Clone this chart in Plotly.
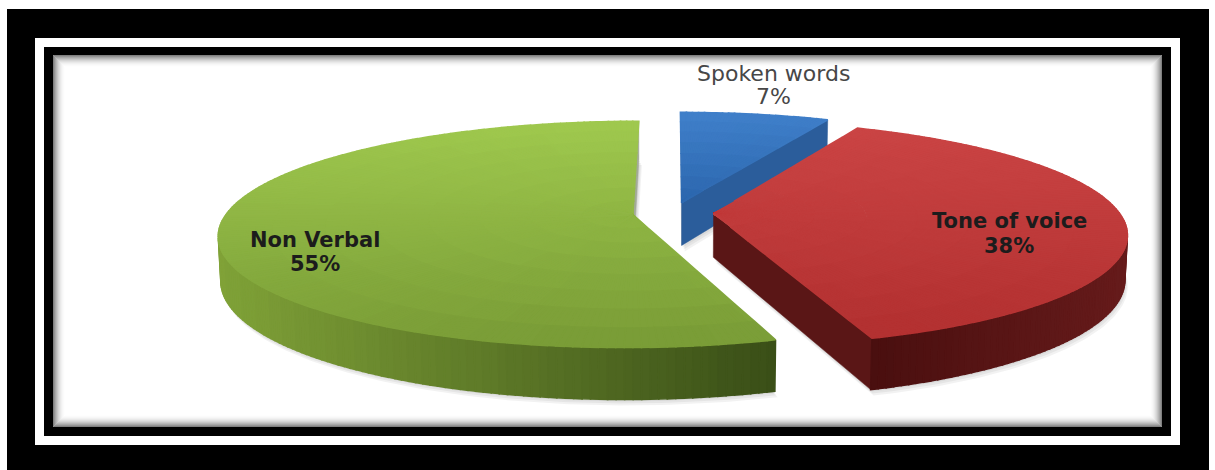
import numpy as np
import plotly.graph_objects as go

# ---- data -------------------------------------------------------------
categories = ["Spoken words", "Tone of voice", "Non Verbal"]
percent = [7, 38, 55]

# ---- colours (per slice, same order as categories) --------------------
top_light = ["#3f7fc9", "#ca4444", "#9fc84e"]
top_dark = ["#2e69b0", "#b33131", "#7a9d37"]
side_left = ["#2a5a96", "#4a0f0f", "#80a238"]
side_right = ["#2a5a96", "#661b1b", "#3a4f17"]
face_start = ["#9aa3ad", "#5a1616", "#4f6d21"]
face_end = ["#2b5d9b", "#5a1616", "#a3aa98"]
label_colors = ["#474747", "#1c1c1c", "#1c1c1c"]

# ---- canvas and 3-D view ------------------------------------------------
W, H = 1215, 470
CX, CY = 673.0, 213.0
FOCAL = 2252.0
DIST = 5.55
TILT = np.radians(15.6)
THICK = 0.112
EXPLODE = 0.10

cos_t, sin_t = np.cos(TILT), np.sin(TILT)
CAM = np.array([0.0, -DIST * cos_t, DIST * sin_t])


def project(X, Y, Z):
    X, Y, Z = np.asarray(X, float), np.asarray(Y, float), np.asarray(Z, float)
    depth = DIST + Y * cos_t - Z * sin_t
    yc = Y * sin_t + Z * cos_t
    return CX + FOCAL * X / depth, CY - FOCAL * yc / depth


def hex_rgb(h):
    h = h.lstrip("#")
    return np.array([int(h[i:i + 2], 16) for i in (0, 2, 4)], float)


def mix(c1, c2, t):
    c = hex_rgb(c1) * (1 - t) + hex_rgb(c2) * t
    return "rgb(%d,%d,%d)" % tuple(np.round(c).astype(int))


def add_polys(fig, polys, color, lw=1.0):
    xs, ys = [], []
    for px, py in polys:
        xs += list(px) + [px[0], None]
        ys += list(py) + [py[0], None]
    fig.add_trace(go.Scatter(
        x=xs, y=ys, mode="lines", fill="toself", fillcolor=color,
        line=dict(color=color, width=lw), hoverinfo="skip", showlegend=False))


def visible(normal, point):
    return float(np.dot(normal, CAM - point)) > 0


fig = go.Figure()

# slice angles, clockwise from 12 o'clock
shares = np.array(percent, float) / sum(percent)
ends = np.cumsum(shares) * 2 * np.pi
starts = ends - shares * 2 * np.pi
mids = (starts + ends) / 2
offsets = [EXPLODE * np.array([np.sin(m), np.cos(m)]) for m in mids]

order = sorted(range(len(percent)), key=lambda i: -(DIST + offsets[i][1] * cos_t))
LEVELS = 40

for i in order:
    a0, a1 = starts[i], ends[i]
    ox, oy = offsets[i]
    n_ang = max(4, int(np.degrees(a1 - a0)))
    angs = np.linspace(a0, a1, n_ang + 1)

    # soft drop shadow under the slice
    bx = ox + np.sin(angs)
    by = oy + np.cos(angs)
    sx, sy = project(np.r_[ox, bx], np.r_[oy, by], np.full(n_ang + 2, -THICK))
    for k, a in enumerate((0.05, 0.05, 0.05)):
        fig.add_trace(go.Scatter(
            x=list(sx + 1 + k) + [sx[0] + 1 + k], y=list(sy + 2 + 2 * k) + [sy[0] + 2 + 2 * k],
            mode="lines", fill="toself", fillcolor="rgba(0,0,0,%.2f)" % a,
            line=dict(color="rgba(0,0,0,0)", width=0), hoverinfo="skip", showlegend=False))

    # radial cut faces
    for ang, sign, col in ((a0, -1, face_start[i]), (a1, 1, face_end[i])):
        normal = sign * np.array([np.cos(ang), -np.sin(ang), 0.0])
        rim = np.array([ox + np.sin(ang), oy + np.cos(ang)])
        mid_pt = np.array([(ox + rim[0]) / 2, (oy + rim[1]) / 2, -THICK / 2])
        if visible(normal, mid_pt):
            X = [ox, rim[0], rim[0], ox]
            Y = [oy, rim[1], rim[1], oy]
            Z = [0, 0, -THICK, -THICK]
            add_polys(fig, [project(X, Y, Z)], col, lw=0.5)

    # outer curved wall
    strips = []
    for k in range(n_ang):
        t0, t1 = angs[k], angs[k + 1]
        tm = (t0 + t1) / 2
        normal = np.array([np.sin(tm), np.cos(tm), 0.0])
        p = np.array([ox + np.sin(tm), oy + np.cos(tm), -THICK / 2])
        if visible(normal, p):
            X = [ox + np.sin(t0), ox + np.sin(t1), ox + np.sin(t1), ox + np.sin(t0)]
            Y = [oy + np.cos(t0), oy + np.cos(t1), oy + np.cos(t1), oy + np.cos(t0)]
            Z = [0, 0, -THICK, -THICK]
            px, py = project(X, Y, Z)
            strips.append((px, py, float(np.mean(px))))
    if strips:
        xmin = min(s[2] for s in strips)
        xmax = max(s[2] for s in strips)
        groups = {}
        for px, py, xm in strips:
            t = 0.0 if xmax == xmin else (xm - xmin) / (xmax - xmin)
            lvl = int(round(t * (LEVELS - 1)))
            groups.setdefault(lvl, []).append((px, py))
        for lvl in sorted(groups):
            add_polys(fig, groups[lvl], mix(side_left[i], side_right[i], lvl / (LEVELS - 1)), lw=1.6)

    # top surface, split into small cells for a vertical colour gradient
    radii = np.linspace(0, 1, 9)
    cells = []
    for k in range(n_ang):
        t0, t1 = angs[k], angs[k + 1]
        for r0, r1 in zip(radii[:-1], radii[1:]):
            X = [ox + r0 * np.sin(t0), ox + r1 * np.sin(t0), ox + r1 * np.sin(t1), ox + r0 * np.sin(t1)]
            Y = [oy + r0 * np.cos(t0), oy + r1 * np.cos(t0), oy + r1 * np.cos(t1), oy + r0 * np.cos(t1)]
            px, py = project(X, Y, [0, 0, 0, 0])
            cells.append((px, py, float(np.mean(py))))
    ymin = min(c[2] for c in cells)
    ymax = max(c[2] for c in cells)
    groups = {}
    for px, py, ym in cells:
        t = (ym - ymin) / (ymax - ymin)
        lvl = int(round(t * (LEVELS - 1)))
        groups.setdefault(lvl, []).append((px, py))
    for lvl in sorted(groups):
        add_polys(fig, groups[lvl], mix(top_light[i], top_dark[i], lvl / (LEVELS - 1)), lw=1.6)

# ---- data labels -------------------------------------------------------
label_pos = [(773, 73, 96), (1009, 221, 246), (315, 240, 264)]
for i, name in enumerate(categories):
    x, y1, y2 = label_pos[i]
    bold = i != 0
    for txt, yy in ((name, y1), ("%d%%" % percent[i], y2)):
        fig.add_annotation(
            x=x, y=yy, xref="x", yref="y", text=txt, showarrow=False,
            xanchor="center", yanchor="middle",
            font=dict(family="DejaVu Sans", size=21 if bold else 22,
                      color=label_colors[i], weight="bold" if bold else "normal"))

# ---- picture frame -----------------------------------------------------
shapes = [
    dict(type="rect", x0=7, y0=9, x1=1209, y1=472, fillcolor="black", line=dict(width=0)),
    dict(type="rect", x0=35, y0=38, x1=1180, y1=445, fillcolor="white", line=dict(width=0)),
    dict(type="rect", x0=44, y0=47, x1=1171, y1=436, fillcolor="black", line=dict(width=0)),
    dict(type="rect", x0=53, y0=55, x1=1162, y1=427, fillcolor="white", line=dict(width=0)),
]
for k in range(12):
    a = 0.5 * (1 - k / 12) ** 2
    shapes.append(dict(type="rect", x0=53.5 + k, y0=55.5 + k, x1=1161.5 - k, y1=426.5 - k,
                       line=dict(color="rgba(0,0,0,%.3f)" % a, width=1)))
for s in shapes:
    s.update(xref="x", yref="y", layer="below")

fig.update_layout(
    width=W, height=H, margin=dict(l=0, r=0, t=0, b=0),
    paper_bgcolor="white", plot_bgcolor="rgba(0,0,0,0)",
    xaxis=dict(range=[0, W], visible=False, fixedrange=True),
    yaxis=dict(range=[H, 0], visible=False, fixedrange=True),
    shapes=shapes, showlegend=False,
)

fig.write_html("out.html")
